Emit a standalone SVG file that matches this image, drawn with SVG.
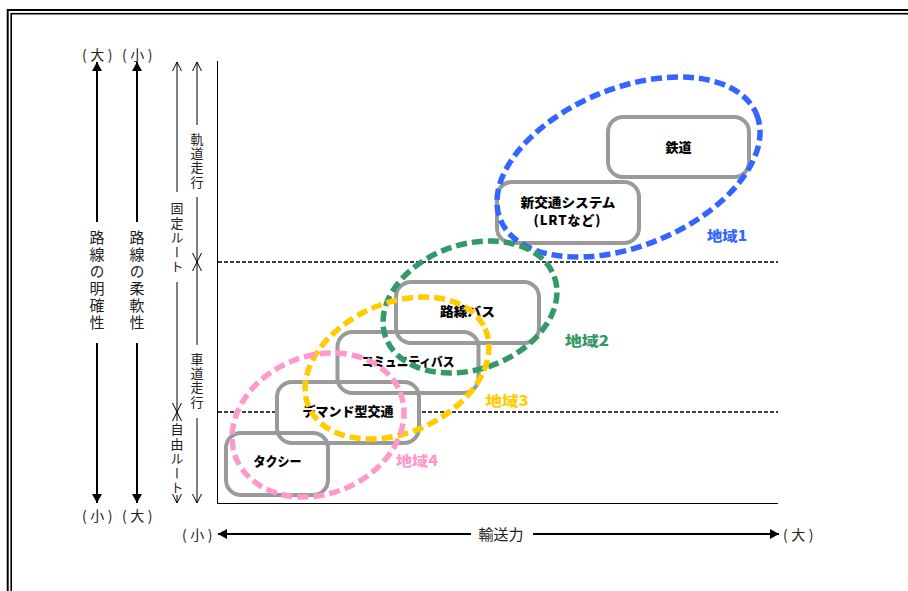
<svg xmlns="http://www.w3.org/2000/svg" width="908" height="591" viewBox="0 0 908 591">
<style>
.ax{font-family:"Noto Sans CJK JP","Noto Sans",sans-serif;font-size:14px;fill:#222;letter-spacing:3.5px}
.ax2{font-family:"Noto Sans CJK JP","Noto Sans",sans-serif;font-size:15px;fill:#222}
.vt{font-family:"Noto Sans CJK JP","Noto Sans",sans-serif;fill:#222;writing-mode:vertical-rl;text-anchor:middle}
.bx{fill:none;stroke:#9a9a9a;stroke-width:4}
.bf{fill:#fff;stroke:none}
.bt{font-family:"Noto Sans CJK JP","Noto Sans",sans-serif;font-size:13px;font-weight:900;fill:#000;text-anchor:middle}
.reg{fill:none;stroke-width:5.5;stroke-dasharray:11 5}
.rl{font-family:"Noto Sans CJK JP","Noto Sans",sans-serif;font-size:14px;font-weight:900;text-anchor:middle}
.thick{stroke:#000;stroke-width:2;fill:none}
.thin{stroke:#000;stroke-width:1;fill:none}
.dash{stroke:#000;stroke-width:1.4;stroke-dasharray:4 2;fill:none}
</style>
<defs>
<marker id="af" markerUnits="userSpaceOnUse" viewBox="0 0 10 10" refX="10" refY="5" markerWidth="9" markerHeight="10" orient="auto-start-reverse" preserveAspectRatio="none">
<path d="M0,0 L10,5 L0,10 Z" fill="#000"/>
</marker>
<marker id="ao" markerUnits="userSpaceOnUse" viewBox="-1 -1 11 11" refX="9" refY="4.5" markerWidth="11" markerHeight="11" orient="auto-start-reverse">
<path d="M0,0 L9,4.5 L0,9" fill="none" stroke="#000" stroke-width="1"/>
</marker>
</defs>
<rect width="908" height="591" fill="#fff"/>
<g id="frame" fill="none" stroke="#000">
<rect x="7.7" y="10" width="1000" height="1000" stroke-width="2"/>
<rect x="11.2" y="13.7" width="1000" height="1000" stroke-width="1.6"/>
</g>
<g id="connectors">
<line class="thin" x1="217.5" y1="61" x2="217.5" y2="503.5"/>
<line class="thin" x1="217" y1="503.5" x2="778" y2="503.5"/>
<line class="dash" x1="218" y1="262" x2="778" y2="262"/>
<line class="dash" x1="218" y1="412" x2="778" y2="412"/>
<line class="thick" x1="97" y1="62" x2="97" y2="222" marker-start="url(#af)"/>
<line class="thick" x1="97" y1="343" x2="97" y2="503" marker-end="url(#af)"/>
<line class="thick" x1="137" y1="62" x2="137" y2="222" marker-start="url(#af)"/>
<line class="thick" x1="137" y1="343" x2="137" y2="503" marker-end="url(#af)"/>
<line class="thin" x1="177" y1="62" x2="177" y2="192" marker-start="url(#ao)"/>
<line class="thin" x1="177" y1="282" x2="177" y2="412" marker-end="url(#ao)"/>
<line class="thin" x1="177" y1="412" x2="177" y2="421" marker-start="url(#ao)"/>
<line class="thin" x1="177" y1="495" x2="177" y2="503" marker-end="url(#ao)"/>
<line class="thin" x1="197" y1="62" x2="197" y2="125" marker-start="url(#ao)"/>
<line class="thin" x1="197" y1="197" x2="197" y2="262" marker-end="url(#ao)"/>
<line class="thin" x1="197" y1="262" x2="197" y2="345" marker-start="url(#ao)"/>
<line class="thin" x1="197" y1="418" x2="197" y2="503" marker-end="url(#ao)"/>
<line class="thick" x1="218" y1="534" x2="471" y2="534" marker-start="url(#af)"/>
<line class="thick" x1="533" y1="534" x2="779" y2="534" marker-end="url(#af)"/>
</g>
<g id="axis-labels">
<text class="ax" x="99" y="59.5" text-anchor="middle">(大)</text>
<text class="ax" x="139" y="59.5" text-anchor="middle">(小)</text>
<text class="ax" x="99" y="521" text-anchor="middle">(小)</text>
<text class="ax" x="139" y="521" text-anchor="middle">(大)</text>
<text class="ax" x="199" y="539.5" text-anchor="middle">(小)</text>
<text class="ax" x="800" y="539.5" text-anchor="middle">(大)</text>
<text class="ax2" x="501" y="539.5" text-anchor="middle">輸送力</text>
<text class="vt" x="97" y="281" font-size="15" letter-spacing="2">路線の明確性</text>
<text class="vt" x="137" y="281" font-size="15" letter-spacing="2">路線の柔軟性</text>
<text class="vt" x="177" y="238" font-size="13" letter-spacing="1.5">固定ルート</text>
<text class="vt" x="177" y="459" font-size="13" letter-spacing="1.5">自由ルート</text>
<text class="vt" x="197" y="161" font-size="13" letter-spacing="1.3">軌道走行</text>
<text class="vt" x="197" y="381" font-size="13" letter-spacing="1.3">車道走行</text>
</g>
<g id="box-fills">
<rect class="bf" x="608" y="117" width="141" height="60" rx="15"/>
<rect class="bf" x="497" y="182" width="142" height="61" rx="15"/>
<rect class="bf" x="396" y="282" width="143" height="61" rx="15"/>
<rect class="bf" x="337.5" y="332" width="141" height="61" rx="15"/>
<rect class="bf" x="277" y="382" width="142" height="61" rx="15"/>
<rect class="bf" x="226" y="433" width="102" height="62" rx="15"/>
</g>
<g id="node-tetsudo">
<rect class="bx" x="608" y="117" width="141" height="60" rx="15"/>
<text class="bt" x="678.5" y="151.5" font-size="14">鉄道</text>
</g>
<g id="node-shinkotsu">
<rect class="bx" x="497" y="182" width="142" height="61" rx="15"/>
<text class="bt" x="568" y="207" font-size="12.5" textLength="95" lengthAdjust="spacingAndGlyphs">新交通システム</text>
<text class="bt" x="567" y="224.5" font-size="11.5" textLength="67" lengthAdjust="spacing">(LRTなど)</text>
</g>
<g id="node-rosenbus">
<rect class="bx" x="396" y="282" width="143" height="61" rx="15"/>
<text class="bt" x="467.5" y="315.5" textLength="55" lengthAdjust="spacingAndGlyphs">路線バス</text>
</g>
<g id="node-community">
<rect class="bx" x="337.5" y="332" width="141" height="61" rx="15"/>
<text class="bt" x="408" y="365.5" textLength="93" lengthAdjust="spacingAndGlyphs">コミュニティバス</text>
</g>
<g id="node-demand">
<rect class="bx" x="277" y="382" width="142" height="61" rx="15"/>
<text class="bt" x="348" y="415.5" textLength="91" lengthAdjust="spacingAndGlyphs">デマンド型交通</text>
</g>
<g id="node-taxi">
<rect class="bx" x="226" y="433" width="102" height="62" rx="15"/>
<text class="bt" x="277.5" y="465.5" textLength="48" lengthAdjust="spacingAndGlyphs">タクシー</text>
</g>
<g id="region-1">
<ellipse class="reg" stroke="#3366ff" cx="628.5" cy="167" rx="138.5" ry="78.8" transform="rotate(-22.4 628.5 167)"/>
<text class="rl" fill="#3366ff" x="727" y="241" textLength="40" lengthAdjust="spacingAndGlyphs">地域1</text>
</g>
<g id="region-2">
<ellipse class="reg" stroke="#339966" cx="470" cy="307" rx="89.6" ry="62.4" transform="rotate(-19.6 470 307)"/>
<text class="rl" fill="#339966" x="587" y="346" textLength="44" lengthAdjust="spacingAndGlyphs">地域2</text>
</g>
<g id="region-3">
<ellipse class="reg" stroke="#ffcc00" cx="397" cy="368" rx="96.5" ry="64.7" transform="rotate(-24.1 397 368)"/>
<text class="rl" fill="#ffcc00" x="507" y="406" textLength="43" lengthAdjust="spacingAndGlyphs">地域3</text>
</g>
<g id="region-4">
<ellipse class="reg" stroke="#ff99cc" cx="318" cy="425" rx="88.4" ry="69" transform="rotate(-21.8 318 425)"/>
<text class="rl" fill="#ff99cc" x="417" y="466" textLength="42" lengthAdjust="spacingAndGlyphs">地域4</text>
</g>
</svg>
